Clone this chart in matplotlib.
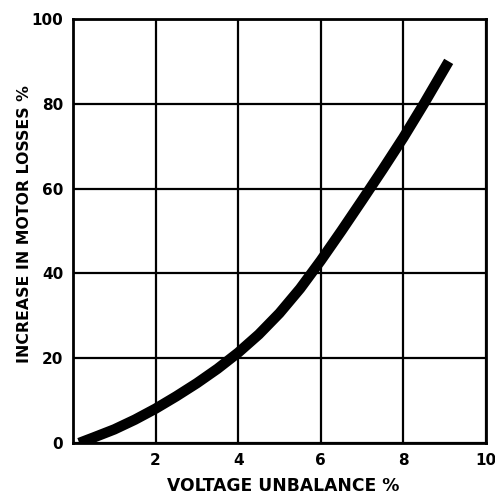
import matplotlib
matplotlib.use("Agg")
import matplotlib.pyplot as plt

# values
unbalance = [0.15, 0.5, 1.0, 1.5, 2.0, 2.5, 3.0, 3.5, 4.0, 4.5, 5.0,
             5.5, 6.0, 6.5, 7.0, 7.5, 8.0, 8.5, 9.1]
losses = [0.0, 1.3, 3.2, 5.5, 8.1, 11.0, 14.1, 17.5, 21.3, 25.6, 30.6,
          36.4, 43.0, 50.0, 57.2, 64.5, 72.0, 80.0, 90.0]

x_ticks = [2, 4, 6, 8, 10]
y_ticks = [0, 20, 40, 60, 80, 100]

plt.rcParams["font.family"] = ["DejaVu Sans"]
plt.rcParams["font.weight"] = "bold"

fig = plt.figure(figsize=(4.95, 4.97), dpi=100)
ax = fig.add_axes([0.1475, 0.1087, 0.834, 0.8531])

# the thick curve
ax.plot(unbalance, losses, color="black", linewidth=7.5,
        solid_capstyle="butt", solid_joinstyle="round")

ax.set_xlim(0, 10)
ax.set_ylim(0, 100)
ax.set_xticks(x_ticks)
ax.set_yticks(y_ticks)
ax.tick_params(length=0, labelsize=11, pad=7)
for lbl in ax.get_xticklabels() + ax.get_yticklabels():
    lbl.set_fontweight("bold")

ax.grid(True, color="black", linewidth=1.6)
ax.set_axisbelow(True)
for s in ax.spines.values():
    s.set_linewidth(2)

ax.set_xlabel("VOLTAGE UNBALANCE %", fontsize=12.3, fontweight="bold", labelpad=7)
ax.set_ylabel("INCREASE IN MOTOR LOSSES %", fontsize=11.3, fontweight="bold", labelpad=0)
ax.xaxis.label.set_x(0.51)
ax.yaxis.label.set_y(0.516)

plt.savefig("out.png", dpi=100)
